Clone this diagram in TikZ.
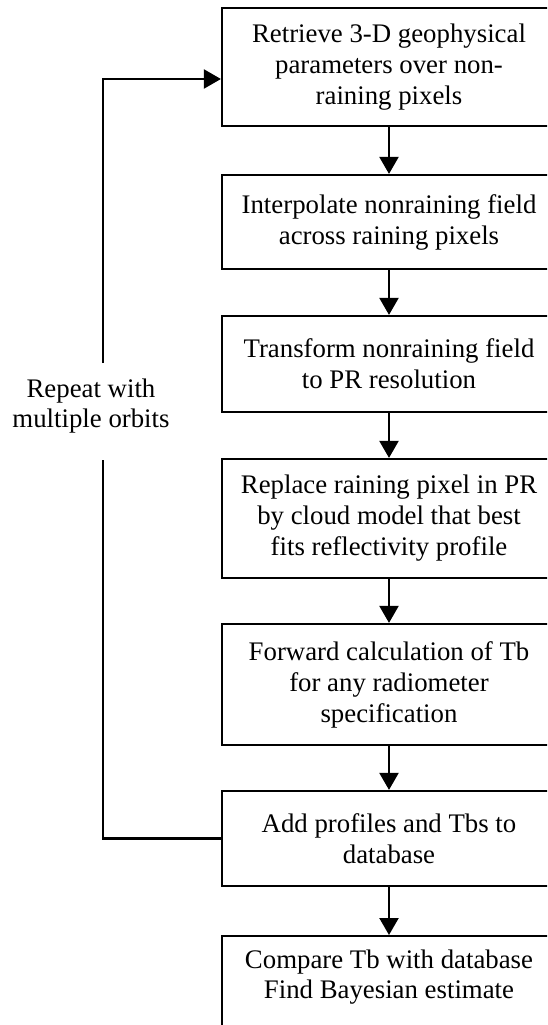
\documentclass[tikz,border=0pt]{standalone}
\usepackage{fontspec}
\setmainfont{Liberation Serif}
\usetikzlibrary{arrows.meta}
\begin{document}
\begin{tikzpicture}[x=1pt,y=-1pt,
  box/.style={draw, line width=2.2pt, minimum width=334pt, align=center, inner sep=0pt, font=\fontsize{26.8}{31}\selectfont},
  lbl/.style={align=center, inner sep=0pt, font=\fontsize{26.8}{30}\selectfont},
  flow/.style={line width=2.2pt, -{Triangle[length=17pt,width=19pt]}},
  loopline/.style={line width=2.2pt}]
\clip (0,0) rectangle (547,1025);
\fill[white] (0,0) rectangle (547,1025);
\node[box, minimum height=118pt] (b1) at (389,67) {Retrieve 3-D geophysical\\parameters over non-\\raining pixels};
\node[box, minimum height=94pt] (b2) at (389,222) {Interpolate nonraining field\\across raining pixels};
\node[box, minimum height=96pt] (b3) at (389,364) {Transform nonraining field\\to PR resolution};
\node[box, minimum height=119pt] (b4) at (389,518.5) {Replace raining pixel in PR\\by cloud model that best\\fits reflectivity profile};
\node[box, minimum height=121pt] (b5) at (389,684.5) {Forward calculation of Tb\\for any radiometer\\specification};
\node[box, minimum height=95pt] (b6) at (389,838.5) {Add profiles and Tbs to\\database};
\node[box, minimum height=150pt, anchor=north] (b7) at (389,935) {};
\node[lbl] (t7) at (389,977) {Compare Tb with database\\Find Bayesian estimate};
\node[lbl] (rep) at (91,406) {Repeat with\\multiple orbits};
\draw[flow] (b1) -- (b2);
\draw[flow] (b2) -- (b3);
\draw[flow] (b3) -- (b4);
\draw[flow] (b4) -- (b5);
\draw[flow] (b5) -- (b6);
\draw[flow] (b6) -- (b7);
\coordinate (gapb) at (103,460);
\coordinate (gapt) at (103,363);
\coordinate (top) at (103,79);
\draw[loopline] (b6.west) -| (gapb);
\draw[flow] (gapt) -- (top) -- (top -| b1.west);
\end{tikzpicture}
\end{document}
